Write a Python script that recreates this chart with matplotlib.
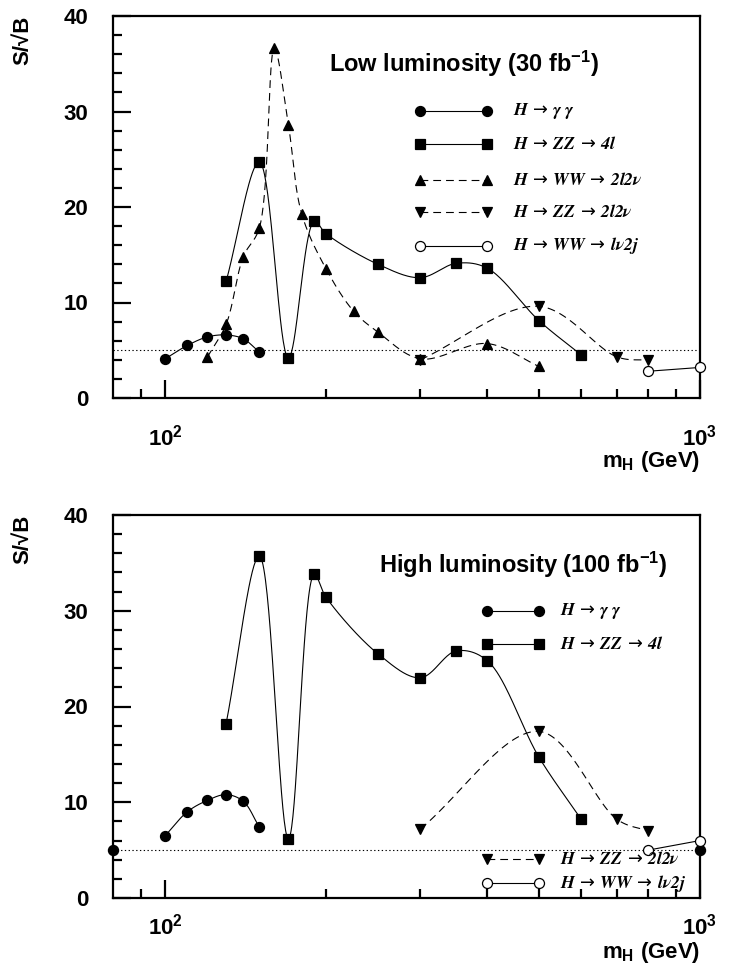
import numpy as np
import matplotlib
matplotlib.use("Agg")
import matplotlib.pyplot as plt

plt.rcParams["font.family"] = ["Liberation Sans", "DejaVu Sans"]
plt.rcParams["mathtext.default"] = "regular"
plt.rcParams["mathtext.fontset"] = "stix"

# ---- data: S/sqrt(B) vs Higgs mass (GeV) ----
mass_gg = [100, 110, 120, 130, 140, 150]
low_gg = [4.1, 5.5, 6.4, 6.6, 6.2, 4.8]
high_gg = [6.5, 9.0, 10.2, 10.8, 10.1, 7.4]

mass_zz4l = [130, 150, 170, 190, 200, 250, 300, 350, 400, 500, 600]
low_zz4l = [12.2, 24.7, 4.2, 18.5, 17.2, 14.0, 12.6, 14.1, 13.6, 8.1, 4.5]
high_zz4l = [18.2, 35.7, 6.2, 33.8, 31.4, 25.5, 23.0, 25.8, 24.8, 14.7, 8.2]

mass_ww2l = [120, 130, 140, 150, 160, 170, 180, 200, 225, 250, 300, 400, 500]
low_ww2l = [4.3, 7.7, 14.8, 17.8, 36.6, 28.6, 19.3, 13.5, 9.1, 6.9, 4.1, 5.7, 3.3]

mass_zz2l = [300, 500, 700, 800]
low_zz2l = [4.0, 9.6, 4.3, 3.95]
high_zz2l = [7.2, 17.4, 8.2, 7.0]

mass_wwjj = [800, 1000]
low_wwjj = [2.8, 3.2]
high_wwjj = [5.0, 6.0]

discovery = 5.0
xrange_mass = [80, 1000]

ARROW = r"\:\rightarrow\:"
labels = {
    "gg": rf"$\mathbfit{{H}}{ARROW}\mathbfit{{\gamma\;\gamma}}$",
    "zz4l": rf"$\mathbfit{{H}}{ARROW}\mathbfit{{ZZ}}{ARROW}\mathbfit{{4l}}$",
    "ww2l": rf"$\mathbfit{{H}}{ARROW}\mathbfit{{WW}}{ARROW}\mathbfit{{2l2\nu}}$",
    "zz2l": rf"$\mathbfit{{H}}{ARROW}\mathbfit{{ZZ}}{ARROW}\mathbfit{{2l2\nu}}$",
    "wwjj": rf"$\mathbfit{{H}}{ARROW}\mathbfit{{WW}}{ARROW}\mathbfit{{l\nu 2j}}$",
}

PX_DEC = 538.0   # pixels per decade on the mass axis
PX_UNIT = 9.55   # pixels per unit of S/sqrt(B)


def smooth(xs, ys, n=40, alpha=0.5):
    """Centripetal Catmull-Rom curve through the points, built in drawn space."""
    u = np.log10(np.asarray(xs, float)) * PX_DEC
    v = np.asarray(ys, float) * PX_UNIT
    P = np.stack([u, v], 1)
    if len(P) < 3:
        return np.asarray(xs, float), np.asarray(ys, float)
    P = np.vstack([2 * P[0] - P[1], P, 2 * P[-1] - P[-2]])
    out = []
    for i in range(1, len(P) - 2):
        p0, p1, p2, p3 = P[i - 1], P[i], P[i + 1], P[i + 2]
        t0 = 0.0
        t1 = t0 + np.linalg.norm(p1 - p0) ** alpha
        t2 = t1 + np.linalg.norm(p2 - p1) ** alpha
        t3 = t2 + np.linalg.norm(p3 - p2) ** alpha
        t = np.linspace(t1, t2, n)[:, None]
        A1 = (t1 - t) / (t1 - t0) * p0 + (t - t0) / (t1 - t0) * p1
        A2 = (t2 - t) / (t2 - t1) * p1 + (t - t1) / (t2 - t1) * p2
        A3 = (t3 - t) / (t3 - t2) * p2 + (t - t2) / (t3 - t2) * p3
        B1 = (t2 - t) / (t2 - t0) * A1 + (t - t0) / (t2 - t0) * A2
        B2 = (t3 - t) / (t3 - t1) * A2 + (t - t1) / (t3 - t1) * A3
        out.append((t2 - t) / (t2 - t1) * B1 + (t - t1) / (t2 - t1) * B2)
    C = np.vstack(out)
    return 10 ** (C[:, 0] / PX_DEC), C[:, 1] / PX_UNIT


DASH = (0, (7, 4.5))
DOT = (0, (1.2, 2.2))
styles = {
    "gg": dict(marker="o", ms=7.2, ls="-", mfc="black"),
    "zz4l": dict(marker="s", ms=6.8, ls="-", mfc="black"),
    "ww2l": dict(marker="^", ms=7.0, ls=DASH, mfc="black"),
    "zz2l": dict(marker="v", ms=7.0, ls=DASH, mfc="black"),
    "wwjj": dict(marker="o", ms=7.2, ls="-", mfc="white"),
}


def draw_series(ax, key, xs, ys):
    st = styles[key]
    sx, sy = smooth(xs, ys)
    ax.plot(sx, sy, color="black", lw=0.8, ls=st["ls"], zorder=2)
    ax.plot(xs, ys, ls="none", marker=st["marker"], ms=st["ms"],
            mfc=st["mfc"], mec="black", mew=0.9, zorder=3, clip_on=False)


def legend_row(ax, key, x0, x1, y, xt):
    st = styles[key]
    ax.plot([x0, x1], [y, y], color="black", lw=0.8, ls=st["ls"], zorder=2)
    ax.plot([x0, x1], [y, y], ls="none", marker=st["marker"], ms=st["ms"],
            mfc=st["mfc"], mec="black", mew=0.9, zorder=3)
    ax.text(xt, y, labels[key], family="DejaVu Sans", fontsize=12.8,
            ha="left", va="center")


def style_axes(ax, xpad, mh_y):
    ax.set_xscale("log")
    ax.set_xlim(*xrange_mass)
    ax.set_ylim(0, 40)
    ax.set_xticks([100, 1000])
    ax.set_xticklabels([r"$10^{2}$", r"$10^{3}$"])
    ax.set_xticks([90, 200, 300, 400, 500, 600, 700, 800, 900], minor=True)
    ax.set_xticklabels([], minor=True)
    ax.set_yticks([0, 10, 20, 30, 40])
    ax.set_yticks(np.arange(0, 41, 2), minor=True)
    ax.tick_params(which="both", direction="in", top=False, right=False,
                   width=1.6, labelsize=16)
    ax.tick_params(which="major", length=13)
    ax.tick_params(which="minor", length=6.2)
    ax.tick_params(axis="y", pad=18)
    ax.tick_params(axis="x", pad=xpad)
    for lab in ax.get_xticklabels() + ax.get_yticklabels():
        lab.set_fontweight("bold")
    for sp in ax.spines.values():
        sp.set_linewidth(1.6)
    ax.text(-0.154, 1.0, "S/√B", transform=ax.transAxes, rotation=90,
            ha="center", va="top", fontsize=16, weight="bold")
    ax.text(1.0, mh_y, r"m$_{H}$ (GeV)", transform=ax.transAxes,
            ha="right", va="center", fontsize=16, weight="bold")


fig = plt.figure(figsize=(7.3, 9.75), dpi=100)
W, H = 730.0, 975.0
ax1 = fig.add_axes([113.3 / W, 1 - 398 / H, (700 - 113.3) / W, (398 - 16) / H])
ax2 = fig.add_axes([113.3 / W, 1 - 898 / H, (700 - 113.3) / W, (898 - 515) / H])

# ---- low luminosity ----
style_axes(ax1, 19, -0.167)
ax1.plot(xrange_mass, [discovery, discovery], color="black", lw=0.8, ls=DOT, zorder=1)
draw_series(ax1, "gg", mass_gg, low_gg)
draw_series(ax1, "zz4l", mass_zz4l, low_zz4l)
draw_series(ax1, "ww2l", mass_ww2l, low_ww2l)
draw_series(ax1, "zz2l", mass_zz2l, low_zz2l)
draw_series(ax1, "wwjj", mass_wwjj, low_wwjj)
ax1.text(0.367, 0.875, r"Low luminosity (30 fb$^{-1}$)", transform=ax1.transAxes,
         fontsize=17, weight="bold", ha="left", va="center")
for key, yy in zip(["gg", "zz4l", "ww2l", "zz2l", "wwjj"],
                   [30.05, 26.55, 22.85, 19.5, 15.95]):
    legend_row(ax1, key, 300, 400, yy, 448)

# ---- high luminosity ----
style_axes(ax2, 11, -0.141)
ax2.plot(xrange_mass, [discovery, discovery], color="black", lw=0.8, ls=DOT,
         marker="o", ms=7.2, mfc="black", mec="black", zorder=1, clip_on=False)
draw_series(ax2, "gg", mass_gg, high_gg)
draw_series(ax2, "zz4l", mass_zz4l, high_zz4l)
draw_series(ax2, "zz2l", mass_zz2l, high_zz2l)
draw_series(ax2, "wwjj", mass_wwjj, high_wwjj)
ax2.text(0.453, 0.871, r"High luminosity (100 fb$^{-1}$)", transform=ax2.transAxes,
         fontsize=17, weight="bold", ha="left", va="center")
for key, yy in zip(["gg", "zz4l", "zz2l", "wwjj"], [30.0, 26.5, 4.1, 1.55]):
    legend_row(ax2, key, 400, 500, yy, 547)

fig.savefig("out.png", dpi=100)
